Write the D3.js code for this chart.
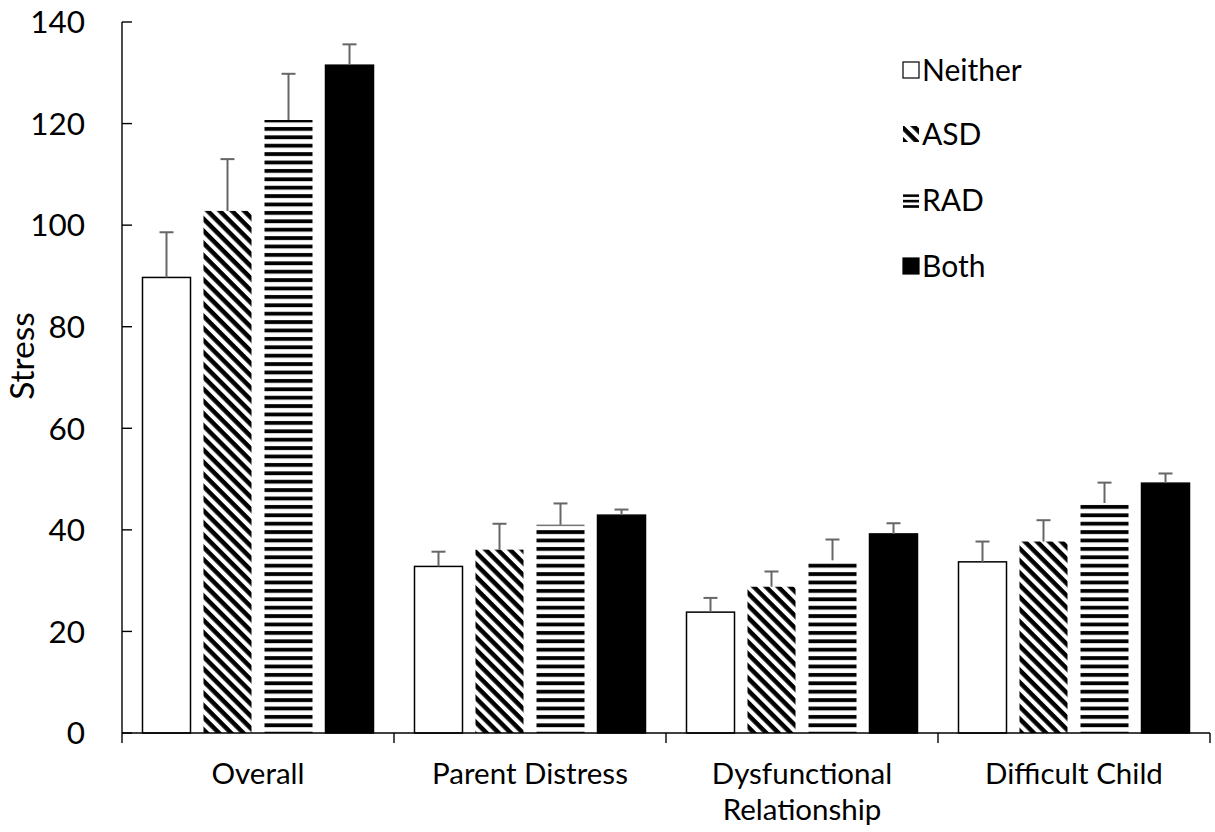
<!DOCTYPE html>
<html>
<head>
<meta charset="utf-8">
<script src="https://cdn.jsdelivr.net/npm/d3@7"></script>
<style>
  html, body { margin: 0; padding: 0; background: #fff; }
  svg { display: block; font-family: Lato, "Open Sans", sans-serif; }
</style>
</head>
<body>
<svg id="chart" width="1215" height="832"></svg>
<script>
// ---- data ----
const categories = [["Overall"], ["Parent Distress"], ["Dysfunctional", "Relationship"], ["Difficult Child"]];
const seriesNames = ["Neither", "ASD", "RAD", "Both"];
const neitherValues = [89.7, 32.8, 23.8, 33.7];
const asdValues     = [102.8, 36.1, 28.8, 37.7];
const radValues     = [120.7, 41.0, 34.0, 45.3];
const bothValues    = [131.5, 42.9, 39.2, 49.2];
const neitherErrors = [8.9, 2.9, 2.8, 4.0];
const asdErrors     = [10.2, 5.1, 3.0, 4.2];
const radErrors     = [9.1, 4.2, 4.1, 4.0];
const bothErrors    = [4.1, 1.1, 2.1, 1.9];
const yTicks = [0, 20, 40, 60, 80, 100, 120, 140];
const yTitle = "Stress";

const values = [neitherValues, asdValues, radValues, bothValues];
const errors = [neitherErrors, asdErrors, radErrors, bothErrors];

// ---- layout ----
const svg = d3.select("#chart");
const x0 = 122, x1 = 1210, yTop = 22, yBottom = 733;

const y = d3.scaleLinear().domain([0, 140]).range([yBottom, yTop]);
const xCat = d3.scaleBand().domain(d3.range(categories.length)).range([x0, x1]).paddingInner(0).paddingOuter(0);
const xSer = d3.scaleBand().domain(d3.range(seriesNames.length)).range([0, xCat.bandwidth()])
  .paddingInner(0.213).paddingOuter(0.336);

// ---- patterns ----
const defs = svg.append("defs");
const diag = defs.append("pattern").attr("id", "diag").attr("patternUnits", "userSpaceOnUse")
  .attr("width", 8.6).attr("height", 8.6).attr("patternTransform", "rotate(45)");
diag.append("rect").attr("width", 8.6).attr("height", 8.6).attr("fill", "#fff");
diag.append("rect").attr("x", 0).attr("y", 0).attr("width", 8.6).attr("height", 4.5).attr("fill", "#000");

const horiz = defs.append("pattern").attr("id", "horiz").attr("patternUnits", "userSpaceOnUse")
  .attr("width", 10).attr("height", 8.4);
horiz.append("rect").attr("width", 10).attr("height", 8.4).attr("fill", "#fff");
horiz.append("rect").attr("x", 0).attr("y", 1).attr("width", 10).attr("height", 3.8).attr("fill", "#000");

const horizSmall = defs.append("pattern").attr("id", "horizSmall").attr("patternUnits", "userSpaceOnUse")
  .attr("width", 10).attr("height", 5.4);
horizSmall.append("rect").attr("width", 10).attr("height", 5.4).attr("fill", "#fff");
horizSmall.append("rect").attr("x", 0).attr("y", 0).attr("width", 10).attr("height", 2.6).attr("fill", "#000");

const fills = ["#fff", "url(#diag)", "url(#horiz)", "#000"];
const strokes = ["#000", "none", "none", "#000"];
const legendFills = ["#fff", "url(#diag)", "url(#horizSmall)", "#000"];

// ---- bars ----
const g = svg.append("g");
values.forEach((vals, s) => {
  const sg = g.append("g");
  sg.selectAll("rect").data(vals).join("rect")
    .attr("x", (d, i) => xCat(i) + xSer(s))
    .attr("y", d => y(d))
    .attr("width", xSer.bandwidth())
    .attr("height", d => yBottom - y(d))
    .attr("fill", fills[s])
    .attr("stroke", strokes[s])
    .attr("stroke-width", 1.5);
});

// ---- error bars ----
const capHalf = 7;
values.forEach((vals, s) => {
  vals.forEach((v, i) => {
    const cx = xCat(i) + xSer(s) + xSer.bandwidth() / 2;
    const top = y(v + errors[s][i]);
    g.append("line").attr("x1", cx).attr("x2", cx).attr("y1", y(v)).attr("y2", top)
      .attr("stroke", "#666").attr("stroke-width", 2);
    g.append("line").attr("x1", cx - capHalf).attr("x2", cx + capHalf).attr("y1", top).attr("y2", top)
      .attr("stroke", "#666").attr("stroke-width", 2);
  });
});

// ---- y axis ----
const yAxis = svg.append("g");
yAxis.append("line").attr("x1", x0).attr("x2", x0).attr("y1", yTop).attr("y2", yBottom)
  .attr("stroke", "#000").attr("stroke-width", 1.4);
yAxis.selectAll(".tick").data(yTicks).join("line")
  .attr("x1", x0).attr("x2", x0 + 10).attr("y1", d => y(d)).attr("y2", d => y(d))
  .attr("stroke", "#000").attr("stroke-width", 1.4);
yAxis.selectAll("text").data(yTicks).join("text")
  .attr("x", 85).attr("y", d => y(d)).attr("dy", "0.36em")
  .attr("text-anchor", "end").attr("font-size", 31.5).attr("fill", "#000")
  .text(d => d);

svg.append("text").attr("transform", `translate(34,356) rotate(-90)`)
  .attr("text-anchor", "middle").attr("font-size", 33.5).attr("fill", "#000").text(yTitle);

// ---- x axis ----
const xAxis = svg.append("g");
xAxis.append("line").attr("x1", x0).attr("x2", x1).attr("y1", yBottom).attr("y2", yBottom)
  .attr("stroke", "#000").attr("stroke-width", 1.4);
const bounds = d3.range(categories.length + 1).map(i => i < categories.length ? xCat(i) : x1);
xAxis.selectAll(".tk").data(bounds).join("line")
  .attr("x1", d => d).attr("x2", d => d).attr("y1", yBottom).attr("y2", yBottom + 10)
  .attr("stroke", "#000").attr("stroke-width", 1.4);
categories.forEach((lines, i) => {
  const t = xAxis.append("text").attr("text-anchor", "middle").attr("font-size", 29.5).attr("fill", "#000");
  lines.forEach((ln, k) => {
    t.append("tspan").attr("x", xCat(i) + xCat.bandwidth() / 2).attr("y", 784 + k * 36).text(ln);
  });
});

// ---- legend ----
const legend = svg.append("g");
const legendY = [70, 134, 200, 266];
seriesNames.forEach((name, s) => {
  legend.append("rect").attr("x", 903).attr("y", legendY[s] - 8).attr("width", 16).attr("height", 16)
    .attr("fill", legendFills[s]).attr("stroke", s === 0 || s === 3 ? "#000" : "none").attr("stroke-width", 1.2);
  legend.append("text").attr("x", 922).attr("y", legendY[s]).attr("dy", "0.36em")
    .attr("font-size", 30).attr("fill", "#000").text(name);
});
</script>
</body>
</html>
